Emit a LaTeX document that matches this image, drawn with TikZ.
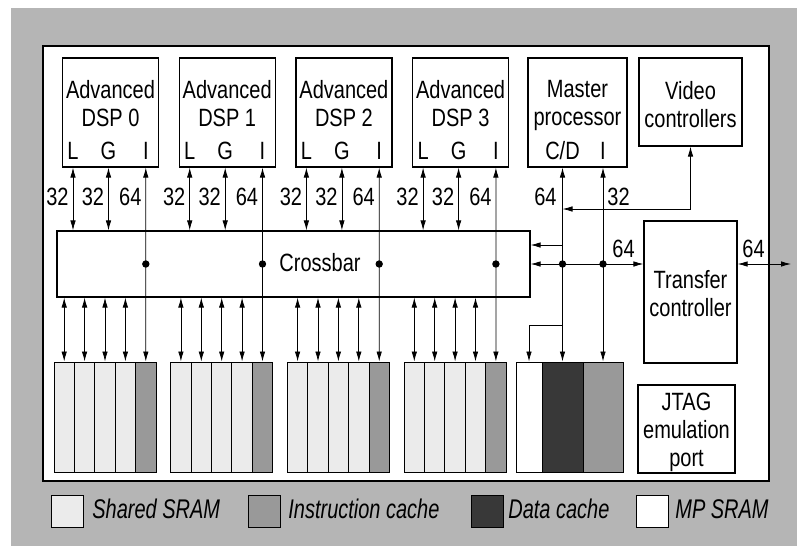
\documentclass[tikz,border=0pt]{standalone}
\usepackage{fontspec}
\setmainfont{Liberation Sans}[FakeStretch=0.8]
\newfontfamily\legendfont{Liberation Sans}[FakeStretch=0.74]
\usetikzlibrary{arrows.meta}
\definecolor{framegray}{gray}{0.71}
\definecolor{sramgray}{gray}{0.92}
\definecolor{icachegray}{gray}{0.6}
\definecolor{dcachegray}{gray}{0.22}

\begin{document}
\begin{tikzpicture}[x=1pt, y=-1pt, >={Latex[length=10pt,width=5.5pt]},
	every node/.style={font=\fontsize{25}{28}\selectfont, inner sep=0pt},
	unit/.style={draw, line width=1.2pt, fill=white},
	bank/.style={draw, line width=1pt, minimum width=20.4pt, minimum height=110pt},
	swatch/.style={draw, line width=1pt, minimum size=32pt},
	keytext/.style={font=\legendfont\itshape\fontsize{27}{30}\selectfont, anchor=base west},
	every path/.style={line width=0.8pt}]
	\useasboundingbox (0,0) rectangle (797,546);
	\fill[framegray] (11,8) rectangle (797,546);
	\draw[line width=1.6pt, fill=white] (43,46) rectangle (769,481);
	% DSPs and their memories
	\foreach \i in {0,...,3} {
		\pgfmathsetmacro\xo{116.7*\i}
		\node[unit, minimum width=96pt, minimum height=109pt] (dsp\i) at (\xo+110.5,112.5) {};
		\node[anchor=north, align=center] (name\i) at (\xo+110.5,80) {Advanced\\DSP \i};
		\node[anchor=base] (lp\i) at (\xo+73,159) {L};
		\node[anchor=base] (gp\i) at (\xo+108.5,159) {G};
		\node[anchor=base] (ip\i) at (\xo+145.8,159) {I};
		\foreach \j/\c in {0/sramgray,1/sramgray,2/sramgray,3/sramgray,4/icachegray}
			\node[bank, fill=\c] (m\i\j) at (\xo+64.2+20.4*\j,417) {};
	}
	\node[unit, minimum width=473pt, minimum height=66pt] (xbar) at (293.5,264) {};
	\node[anchor=base] (xbarname) at (320,271) {Crossbar};
	% master processor side
	\node[unit, minimum width=99pt, minimum height=109pt] (mp) at (577.5,112.5) {};
	\node[anchor=north, align=center] (mpname) at (577.5,80) {Master\\processor};
	\node[anchor=base] (cdp) at (562.5,159) {C/D};
	\node[anchor=base] (mip) at (603,159) {I};
	\node[unit, minimum width=103pt, minimum height=88pt] (vc) at (690.5,102) {};
	\node[anchor=north, align=center] (vcname) at (690.5,81) {Video\\controllers};
	\node[unit, minimum width=93pt, minimum height=142pt] (tc) at (690.5,292) {};
	\node[anchor=north, align=center] (tcname) at (690.5,270) {Transfer\\controller};
	\node[unit, minimum width=97pt, minimum height=88pt] (jtag) at (686.5,429) {};
	\node[anchor=north, align=center] (jtagname) at (686.5,393) {JTAG\\emulation\\port};
	\node[bank, fill=white, minimum width=26pt] (mpsram) at (529,417) {};
	\node[bank, fill=dcachegray, minimum width=41pt] (dcache) at (562.5,417) {};
	\node[bank, fill=icachegray, minimum width=40pt] (icache) at (603,417) {};
	% connections
	\foreach \i in {0,...,3} {
		\draw[<->] (lp\i |- dsp\i.south) -- (lp\i |- xbar.north);
		\draw[<->] (gp\i |- dsp\i.south) -- (gp\i |- xbar.north);
		\draw[<->] (ip\i |- dsp\i.south) -- (m\i4.north);
		\fill (ip\i |- xbar.center) circle (3.7pt);
		\foreach \j in {0,...,3} \draw[<->] (m\i\j.north |- xbar.south) -- (m\i\j.north);
		\node[anchor=base east, xshift=-4pt] (wl\i) at (lp\i |- 0,205) {32};
		\node[anchor=base east, xshift=-4pt] (wg\i) at (gp\i |- 0,205) {32};
		\node[anchor=base east, xshift=-4pt] (wi\i) at (ip\i |- 0,205) {64};
	}
	\draw[<->] (cdp |- mp.south) -- (dcache.north);
	\draw[<->] (mip |- mp.south) -- (icache.north);
	\draw[<->] (vc.south) |- (cdp |- 0,209);
	\draw[->] (cdp |- 0,325) -| (mpsram.north);
	\draw[->] (cdp |- 0,245) -- (xbar.east |- 0,245);
	\draw[<->] (xbar.east |- 0,264) -- (tc.west |- 0,264);
	\fill (cdp |- 0,264) circle (3.7pt);
	\fill (mip |- 0,264) circle (3.7pt);
	\coordinate (ext) at (791,264);
	\draw[<->] (tc.east |- ext) -- (ext);
	\node[anchor=base east] (wcd) at (557,205) {64};
	\node[anchor=base west] (wmi) at (607,205) {32};
	\node[anchor=base] (wtc) at (623.5,257) {64};
	\node[anchor=base] (wext) at (753.5,257) {64};
	% legend
	\node[swatch, fill=sramgray] (kshared) at (67.5,511) {};
	\node[keytext] (tshared) at (92,518) {Shared SRAM};
	\node[swatch, fill=icachegray] (kicache) at (264.5,511) {};
	\node[keytext] (ticache) at (288,518) {Instruction cache};
	\node[swatch, fill=dcachegray] (kdcache) at (487.5,511) {};
	\node[keytext] (tdcache) at (508,518) {Data cache};
	\node[swatch, fill=white] (kmpsram) at (652,511) {};
	\node[keytext] (tmpsram) at (675,518) {MP SRAM};
\end{tikzpicture}
\end{document}
